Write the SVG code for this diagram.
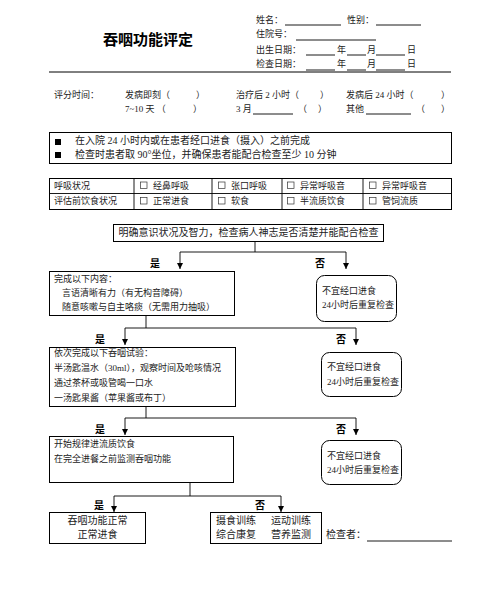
<svg xmlns="http://www.w3.org/2000/svg" width="500" height="615" viewBox="0 0 500 615">
<style>
text{font-family:"Liberation Serif","Noto Sans CJK SC",serif;fill:#222;font-size:9px}
.t10{font-size:10px}
.title{font-size:15px;font-weight:bold;fill:#000}
.yn{font-size:10px;font-weight:bold;fill:#000}
.box{fill:none;stroke:#000;stroke-width:1}
.ln{stroke:#000;stroke-width:0.9;fill:none}
.c{text-anchor:middle}
.cb{fill:none;stroke:#333;stroke-width:0.7}
</style>
<defs>
<marker id="ah" viewBox="0 0 10 10" refX="10" refY="5" markerWidth="6" markerHeight="6" markerUnits="userSpaceOnUse" orient="auto">
<path d="M0,0 L10,5 L0,10 z" fill="#000"/>
</marker>
<rect id="chk" class="cb" x="0" y="0" width="6.5" height="6.5"/>
</defs>
<g id="header">
<text class="title" x="103" y="45">吞咽功能评定</text>
<text x="256" y="23">姓名：</text>
<line class="ln" x1="285" y1="25" x2="341" y2="25"/>
<text x="347" y="23">性别：</text>
<line class="ln" x1="376" y1="25" x2="421" y2="25"/>
<text x="256" y="37">住院号：</text>
<line class="ln" x1="296" y1="40" x2="376" y2="40"/>
<text x="256" y="53">出生日期：</text>
<line class="ln" x1="306" y1="55" x2="335" y2="55"/>
<text x="337" y="53">年</text>
<line class="ln" x1="347" y1="55" x2="366" y2="55"/>
<text x="367" y="53">月</text>
<line class="ln" x1="376" y1="55" x2="405" y2="55"/>
<text x="407" y="53">日</text>
<text x="256" y="67">检查日期：</text>
<line class="ln" x1="306" y1="70" x2="335" y2="70"/>
<text x="337" y="67">年</text>
<line class="ln" x1="347" y1="70" x2="366" y2="70"/>
<text x="367" y="67">月</text>
<line class="ln" x1="376" y1="70" x2="405" y2="70"/>
<text x="407" y="67">日</text>
<line x1="49" y1="72" x2="451" y2="72" stroke="#000" stroke-width="1"/>
</g>
<g id="scoring">
<text x="54" y="98">评分时间：</text>
<text x="125" y="98">发病即刻（</text>
<text x="196" y="98">）</text>
<text x="236" y="98">治疗后 2 小时（</text>
<text x="320" y="98">）</text>
<text x="346" y="98">发病后 24 小时（</text>
<text x="441" y="98">）</text>
<text x="125" y="112">7~10 天 （</text>
<text x="193" y="112">）</text>
<text x="236" y="112">3 月</text>
<line class="ln" x1="253" y1="114" x2="293" y2="114"/>
<text x="298" y="112">（</text>
<text x="318" y="112">）</text>
<text x="346" y="112">其他</text>
<line class="ln" x1="366" y1="114" x2="411" y2="114"/>
<text x="416" y="112">（</text>
<text x="441" y="112">）</text>
</g>
<g id="notes">
<rect class="box" x="49.5" y="132.5" width="402" height="31"/>
<rect x="55" y="139" width="6" height="6" fill="#000"/>
<rect x="55" y="152" width="6" height="6" fill="#000"/>
<text class="t10" x="75" y="144">在入院 24 小时内或在患者经口进食（摄入）之前完成</text>
<text class="t10" x="75" y="158">检查时患者取 90°坐位，并确保患者能配合检查至少 10 分钟</text>
</g>
<g id="status-table">
<rect class="box" x="49.5" y="178.5" width="402" height="31"/>
<line class="ln" x1="49.5" y1="193.5" x2="451.5" y2="193.5"/>
<line class="ln" x1="134" y1="178.5" x2="134" y2="209.5"/>
<line class="ln" x1="212" y1="178.5" x2="212" y2="209.5"/>
<line class="ln" x1="282" y1="178.5" x2="282" y2="209.5"/>
<line class="ln" x1="363" y1="178.5" x2="363" y2="209.5"/>
<use href="#chk" x="140.5" y="182"/>
<use href="#chk" x="218.5" y="182"/>
<use href="#chk" x="287.5" y="182"/>
<use href="#chk" x="369.5" y="182"/>
<use href="#chk" x="140.5" y="197.5"/>
<use href="#chk" x="218.5" y="197.5"/>
<use href="#chk" x="287.5" y="197.5"/>
<use href="#chk" x="369.5" y="197.5"/>
<text x="54" y="189">呼吸状况</text>
<text x="153" y="189">经鼻呼吸</text>
<text x="231" y="189">张口呼吸</text>
<text x="300" y="189">异常呼吸音</text>
<text x="382" y="189">异常呼吸音</text>
<text x="54" y="204">评估前饮食状况</text>
<text x="153" y="204">正常进食</text>
<text x="231" y="204">软食</text>
<text x="300" y="204">半流质饮食</text>
<text x="382" y="204">管饲流质</text>
</g>
<g id="connectors">
<path class="ln" d="M255,241 V252 M180,252 H346"/>
<line class="ln" x1="180" y1="252" x2="180" y2="269" marker-end="url(#ah)"/>
<line class="ln" x1="346" y1="252" x2="346" y2="269" marker-end="url(#ah)"/>
<path class="ln" d="M146,315 V328 M125,328 H356"/>
<line class="ln" x1="125" y1="328" x2="125" y2="345" marker-end="url(#ah)"/>
<line class="ln" x1="356" y1="328" x2="356" y2="345" marker-end="url(#ah)"/>
<path class="ln" d="M146,406 V418 M125,418 H356"/>
<line class="ln" x1="125" y1="418" x2="125" y2="435" marker-end="url(#ah)"/>
<line class="ln" x1="356" y1="418" x2="356" y2="435" marker-end="url(#ah)"/>
<path class="ln" d="M190,482 V496 M114,496 H281"/>
<line class="ln" x1="114" y1="496" x2="114" y2="512" marker-end="url(#ah)"/>
<line class="ln" x1="281" y1="496" x2="281" y2="512" marker-end="url(#ah)"/>
<text class="yn" x="150" y="267">是</text>
<text class="yn" x="315" y="267">否</text>
<text class="yn" x="95" y="343">是</text>
<text class="yn" x="336" y="343">否</text>
<text class="yn" x="95" y="433">是</text>
<text class="yn" x="336" y="433">否</text>
<text class="yn" x="94" y="509">是</text>
<text class="yn" x="255" y="509">否</text>
</g>
<g id="n-start">
<rect class="box" x="113.5" y="224.5" width="270" height="17"/>
<text class="t10 c" x="248.5" y="236">明确意识状况及智力，检查病人神志是否清楚并能配合检查</text>
</g>
<g id="n-step1">
<rect class="box" x="49.5" y="271.5" width="185" height="44"/>
<text x="54" y="282">完成以下内容：</text>
<text x="62" y="296">言语清晰有力（有无构音障碍）</text>
<text x="62" y="310">随意咳嗽与自主咯痰（无需用力抽吸）</text>
</g>
<g id="n-no1">
<rect class="box" x="316.5" y="275.5" width="80" height="46" rx="8"/>
<text x="322" y="294">不宜经口进食</text>
<text x="322" y="308">24小时后重复检查</text>
</g>
<g id="n-step2">
<rect class="box" x="49.5" y="347.5" width="186" height="59"/>
<text x="54" y="356">依次完成以下吞咽试验：</text>
<text x="54" y="371">半汤匙温水（30ml），观察时间及呛咳情况</text>
<text x="54" y="386">通过茶杯或吸管喝一口水</text>
<text x="54" y="401">一汤匙果酱（苹果酱或布丁）</text>
</g>
<g id="n-no2">
<rect class="box" x="321.5" y="352.5" width="80" height="44" rx="8"/>
<text x="327" y="370">不宜经口进食</text>
<text x="327" y="385">24小时后重复检查</text>
</g>
<g id="n-step3">
<rect class="box" x="49.5" y="436.5" width="184" height="46"/>
<text x="54" y="447">开始规律进流质饮食</text>
<text x="54" y="462">在完全进餐之前监测吞咽功能</text>
</g>
<g id="n-no3">
<rect class="box" x="321.5" y="440.5" width="80" height="44" rx="8"/>
<text x="327" y="459">不宜经口进食</text>
<text x="327" y="473">24小时后重复检查</text>
</g>
<g id="n-normal">
<rect class="box" x="49.5" y="512.5" width="96" height="31"/>
<text class="t10 c" x="97.5" y="524">吞咽功能正常</text>
<text class="t10 c" x="97.5" y="538">正常进食</text>
</g>
<g id="n-training">
<rect class="box" x="210.5" y="512.5" width="111" height="31"/>
<text class="t10" x="216" y="524">摄食训练</text>
<text class="t10" x="271" y="524">运动训练</text>
<text class="t10" x="216" y="538">综合康复</text>
<text class="t10" x="271" y="538">营养监测</text>
</g>
<g id="checker">
<text class="t10" x="326" y="538">检查者：</text>
<line class="ln" x1="367" y1="541" x2="452" y2="541"/>
</g>
</svg>
